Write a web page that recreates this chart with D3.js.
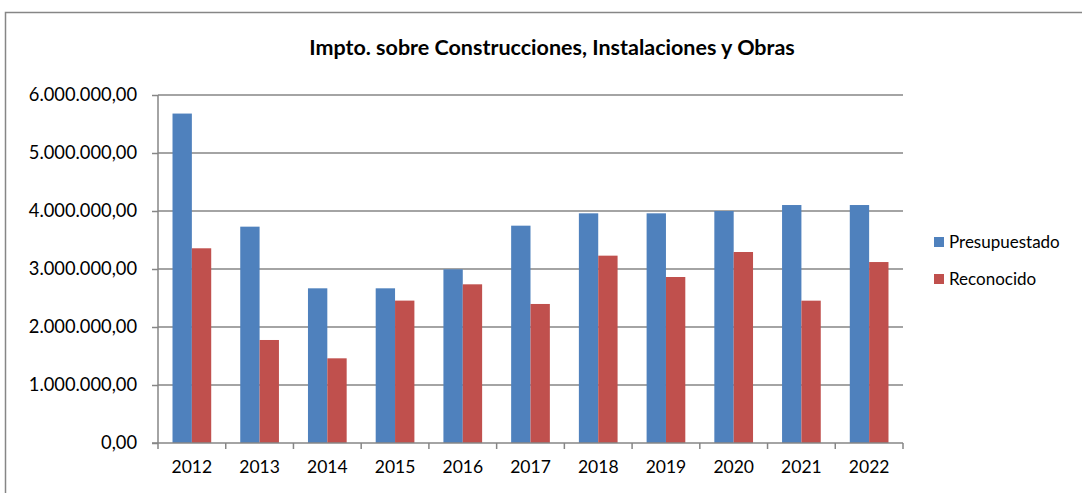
<!DOCTYPE html>
<html>
<head>
<meta charset="utf-8">
<script src="https://cdn.jsdelivr.net/npm/d3@7"></script>
<style>
  body { margin: 0; background: #fff; }
  svg text { font-family: Lato, "Liberation Sans", sans-serif; fill: #000; }
</style>
</head>
<body>
<div id="chart"></div>
<script>
// data
var years = ["2012","2013","2014","2015","2016","2017","2018","2019","2020","2021","2022"];
var presupuestado = [5680000, 3730000, 2667000, 2667000, 2995000, 3747000, 3960000, 3960000, 4000000, 4103000, 4103000];
var reconocido = [3357000, 1776000, 1460000, 2455000, 2736000, 2397000, 3230000, 2862000, 3293000, 2454000, 3120000];
var seriesNames = ["Presupuestado", "Reconocido"];
var colors = ["#4F81BD", "#C0504D"];
var yTicks = [0, 1000000, 2000000, 3000000, 4000000, 5000000, 6000000];

var width = 1082, height = 493;
var margin = {left: 158, right: 179, top: 95, bottom: 50};

var svg = d3.select("#chart").append("svg")
  .attr("width", width)
  .attr("height", height);

// outer chart frame
svg.append("rect")
  .attr("x", 5.5).attr("y", 12.5)
  .attr("width", width + 10).attr("height", height + 10)
  .attr("fill", "none")
  .attr("stroke", "#868686")
  .attr("stroke-width", 1.5);

svg.append("text")
  .attr("x", 552).attr("y", 55)
  .attr("text-anchor", "middle")
  .style("font-size", "21.5px")
  .style("font-weight", "bold")
  .text("Impto. sobre Construcciones, Instalaciones y Obras");

var x = d3.scaleBand()
  .domain(years)
  .range([margin.left, width - margin.right]);

var y = d3.scaleLinear()
  .domain([0, 6000000])
  .range([height - margin.bottom, margin.top]);

var fmt = function(v) {
  return d3.format(",.2f")(v).replace(/,/g, "#").replace(".", ",").replace(/#/g, ".");
};

// gridlines
svg.append("g").selectAll("line")
  .data(yTicks.slice(1))
  .enter().append("line")
  .attr("x1", margin.left).attr("x2", width - margin.right)
  .attr("y1", function(d) { return y(d); })
  .attr("y2", function(d) { return y(d); })
  .attr("stroke", "#868686")
  .attr("stroke-width", 1.5);

// bars
var inner = d3.scaleBand()
  .domain(seriesNames)
  .range([0, x.bandwidth()])
  .paddingInner(0)
  .paddingOuter(0.75);

var groups = svg.append("g").selectAll("g")
  .data(years)
  .enter().append("g")
  .attr("transform", function(d) { return "translate(" + x(d) + ",0)"; });

groups.selectAll("rect")
  .data(function(d, i) { return [presupuestado[i], reconocido[i]]; })
  .enter().append("rect")
  .attr("x", function(d, j) { return inner(seriesNames[j]); })
  .attr("y", function(d) { return y(d); })
  .attr("width", inner.bandwidth())
  .attr("height", function(d) { return y(0) - y(d); })
  .attr("fill", function(d, j) { return colors[j]; });

// y axis
var yAxis = svg.append("g")
  .attr("transform", "translate(" + margin.left + ",0)")
  .call(d3.axisLeft(y).tickValues(yTicks).tickFormat(fmt).tickSize(6).tickPadding(15));
yAxis.selectAll("text").style("font-size", "18.3px");

// x axis
var xAxis = svg.append("g")
  .attr("transform", "translate(0," + y(0) + ")")
  .call(d3.axisBottom(x).tickSize(0).tickPadding(18));
xAxis.selectAll("text").style("font-size", "17.5px");
xAxis.selectAll(".tick").append("line")
  .attr("x1", -x.bandwidth() / 2).attr("x2", -x.bandwidth() / 2)
  .attr("y1", 0).attr("y2", 6)
  .attr("stroke", "#868686").attr("stroke-width", 1.5);
xAxis.append("line")
  .attr("x1", width - margin.right).attr("x2", width - margin.right)
  .attr("y1", 0).attr("y2", 6)
  .attr("stroke", "#868686").attr("stroke-width", 1.5);

svg.selectAll(".domain").attr("stroke", "#868686").attr("stroke-width", 1.5);
yAxis.select(".domain").attr("d", "M0," + y(0) + "V" + y(6000000));
xAxis.select(".domain").attr("d", "M" + (margin.left - 6) + ",0H" + (width - margin.right));
svg.selectAll(".tick line").attr("stroke", "#868686").attr("stroke-width", 1.5);

// legend
var legend = svg.append("g").selectAll("g")
  .data(seriesNames)
  .enter().append("g")
  .attr("transform", function(d, i) { return "translate(934," + (237 + i * 37) + ")"; });
legend.append("rect")
  .attr("width", 10).attr("height", 10)
  .attr("fill", function(d, i) { return colors[i]; });
legend.append("text")
  .attr("x", 15).attr("y", 5)
  .attr("dy", "0.35em")
  .style("font-size", "17px")
  .text(function(d) { return d; });
</script>
</body>
</html>
